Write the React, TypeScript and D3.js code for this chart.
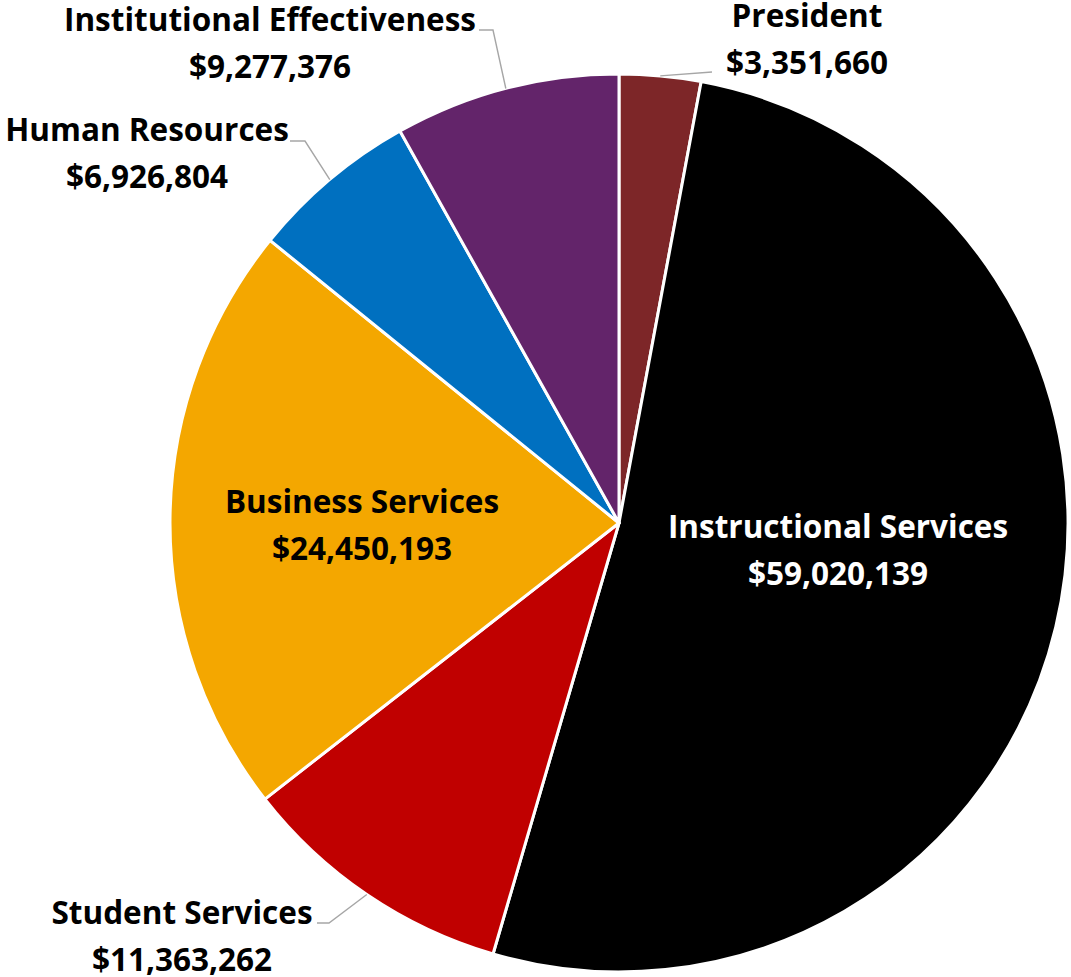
import React from "react";
import * as d3 from "d3";

const categories = [
  "President",
  "Instructional Services",
  "Student Services",
  "Business Services",
  "Human Resources",
  "Institutional Effectiveness",
];
const values = [3351660, 59020139, 11363262, 24450193, 6926804, 9277376];
const colors = ["#7D2628", "#000000", "#C00000", "#F4A700", "#0070C0", "#63246A"];
const labelColors = ["#000", "#fff", "#000", "#000", "#000", "#000"];

// label layout: text centre x, first baseline y, whether it sits outside (leader line)
const labelPos: { x: number; y: number; outside: boolean; elbow?: [number, number]; end?: [number, number] }[] = [
  { x: 807, y: 27, outside: true, end: [712, 72] },
  { x: 838, y: 538, outside: false },
  { x: 182, y: 924, outside: true, elbow: [329, 923], end: [317, 923] },
  { x: 362, y: 513, outside: false },
  { x: 147, y: 141, outside: true, elbow: [305, 141], end: [290, 141] },
  { x: 270, y: 31, outside: true, elbow: [493, 30], end: [479, 30] },
];

const W = 1071;
const H = 977;
const cx = 619;
const cy = 523;
const R = 449;
const fmt = d3.format("$,");

export default function App() {
  const pie = d3.pie<number>().sort(null).value((d) => d);
  const arcs = pie(values);
  const arc = d3.arc<d3.PieArcDatum<number>>().innerRadius(0).outerRadius(R);
  const font = "'Open Sans', sans-serif";
  return (
    <svg
      width={W}
      height={H}
      style={{ position: "absolute", left: 0, top: 0, background: "#fff" }}
    >
      <g transform={`translate(${cx},${cy})`}>
        {arcs.map((a, i) => (
          <path key={i} d={arc(a) || ""} fill={colors[i]} stroke="#fff" strokeWidth={3} strokeLinejoin="round" />
        ))}
      </g>
      {arcs.map((a, i) => {
        const lp = labelPos[i];
        if (!lp.outside) return null;
        const mid = (a.startAngle + a.endAngle) / 2;
        const ex = cx + R * Math.sin(mid);
        const ey = cy - R * Math.cos(mid);
        const pts: [number, number][] = [[ex, ey]];
        if (lp.elbow) pts.push(lp.elbow);
        if (lp.end) pts.push(lp.end);
        return (
          <path
            key={"l" + i}
            d={d3.line()(pts) || ""}
            fill="none"
            stroke="#A6A6A6"
            strokeWidth={1.4}
          />
        );
      })}
      {categories.map((c, i) => {
        const lp = labelPos[i];
        return (
          <text
            key={"t" + i}
            x={lp.x}
            y={lp.y}
            textAnchor="middle"
            fontFamily={font}
            fontWeight={700}
            fontSize={31.5}
            fill={labelColors[i]}
          >
            <tspan x={lp.x}>{c}</tspan>
            <tspan x={lp.x} dy={47}>
              {fmt(values[i])}
            </tspan>
          </text>
        );
      })}
    </svg>
  );
}
